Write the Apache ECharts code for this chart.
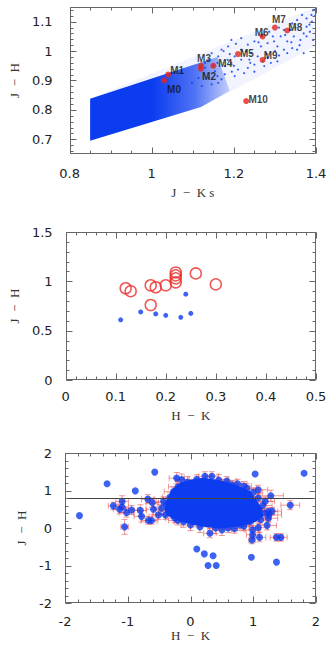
<!DOCTYPE html>
<html><head><meta charset="utf-8">
<script src="https://cdn.jsdelivr.net/npm/echarts@6/dist/echarts.min.js"></script>
<style>html,body{margin:0;padding:0;background:#fff}#c{width:332px;height:653px}</style>
</head><body><div id="c"></div>
<script>
// ---------- Panel 1 data (J-Ks vs J-H) ----------
const p1Names = ['M0','M1','M2','M3','M4','M5','M6','M7','M8','M9','M10'];
const p1X = [1.03, 1.04, 1.12, 1.12, 1.15, 1.21, 1.27, 1.30, 1.33, 1.27, 1.23];
const p1Y = [0.90, 0.92, 0.94, 0.95, 0.95, 0.99, 1.05, 1.08, 1.07, 0.97, 0.83];
const p1XTicks = [0.8, 1, 1.2, 1.4];
const p1YTicks = [0.7, 0.8, 0.9, 1, 1.1];
// outline of the whole simulated band and of its densely filled part
const p1BandOutline = [[0.85,0.695],[1.12,0.81],[1.25,0.905],[1.4,1.02],[1.4,1.15],[0.85,0.838]];
const p1DenseOutline = [[0.85,0.695],[1.12,0.81],[1.19,0.865],[1.16,0.98],[0.85,0.838]];
// individual sparse points in the right part of the band
const p1Speckle = [
 [1.393,1.139],[1.389,1.123],[1.377,1.111],[1.366,1.123],[1.354,1.106],[1.342,1.094],
 [1.385,1.066],[1.377,1.05],[1.393,1.038],[1.362,1.038],[1.346,1.05],[1.33,1.033],
 [1.354,1.005],[1.37,0.993],[1.314,1.05],[1.298,1.033],[1.306,1.016],[1.322,1.005],
 [1.282,1.027],[1.266,1.016],[1.25,1.033],[1.234,1.022],[1.218,1.005],[1.242,0.993],
 [1.258,0.982],[1.29,0.96],[1.306,0.965],[1.274,0.949],[1.25,0.954],[1.234,0.943],
 [1.218,0.971],[1.202,0.982],[1.194,0.96],[1.178,0.949],[1.21,0.937],[1.186,1.016],
 [1.17,1.005],[1.162,0.982],[1.146,0.993],[1.138,0.971],[1.13,0.943],[1.154,0.932],
 [1.178,0.921],[1.202,0.915],[1.17,0.904],[1.138,0.909],[1.114,0.909],[1.098,0.892],
 [1.122,0.881],[1.146,0.887],[1.162,0.892],[1.33,0.993],[1.342,1.01],[1.282,0.977],
 [1.238,0.971],[1.266,1.05],[1.286,1.066],[1.322,1.072],[1.338,1.072],[1.377,1.083],
 [1.194,1.038],[1.218,1.044],[1.396,1.14],[1.39,1.1],[1.37,1.06],[1.35,1.08],
 [1.31,1.08],[1.295,1.05],[1.26,1.03],[1.23,1.0],[1.2,0.95],[1.25,0.93],[1.19,0.99],
 [1.398,1.12],[1.384,1.09],[1.36,1.02],[1.34,1.03],[1.325,1.055],[1.3,1.0],[1.28,0.99],
 [1.31,0.985],[1.27,0.965],[1.24,0.96],[1.225,0.925],[1.195,0.93],[1.16,0.915],
 [1.205,1.025],[1.175,1.0],[1.16,0.96],[1.13,0.96],[1.15,0.95],[1.185,0.97]
];

// ---------- Panel 2 data (H-K vs J-H) ----------
const p2RedX = [0.12, 0.13, 0.17, 0.18, 0.17, 0.20, 0.22, 0.22, 0.22, 0.22, 0.26, 0.30];
const p2RedY = [0.93, 0.90, 0.96, 0.94, 0.76, 0.96, 1.09, 1.06, 1.03, 0.99, 1.08, 0.97];
const p2BlueX = [0.11, 0.15, 0.18, 0.20, 0.23, 0.24, 0.25];
const p2BlueY = [0.61, 0.69, 0.67, 0.655, 0.635, 0.87, 0.675];

// ---------- Panel 3 data (H-K vs J-H with errors) ----------
// [H-K, J-H, err(H-K), err(J-H)]
const p3Points = [
 [-1.77,0.33,0,0],[-1.33,1.18,0,0],[-1.23,0.59,0.08,0.1],[-0.88,0.99,0,0],[-1.05,0.03,0.06,0.2],
 [-0.57,1.49,0,0],[-1.09,0.71,0.1,0.15],[-1.09,0.56,0.1,0.15],[-1.13,0.50,0.1,0.12],
 [-1.02,0.41,0.12,0.12],[-0.94,0.48,0.1,0.12],[-0.80,0.47,0.1,0.15],[-0.78,0.31,0.12,0.15],
 [-0.68,0.77,0.1,0.12],[-0.67,0.20,0.12,0.1],[-0.62,0.20,0.1,0.1],[-0.61,0.68,0.1,0.12],
 [-0.59,0.50,0.12,0.15],[-0.51,0.35,0.1,0.12],[-0.46,0.53,0.12,0.15],[-0.43,0.71,0.12,0.12],
 [-0.22,1.33,0.12,0.15],[-0.14,1.29,0.1,0.15],[0.23,1.38,0.1,0.12],[0.34,1.38,0.1,0.12],
 [1.03,1.44,0,0],[1.81,1.46,0,0],[1.08,1.02,0.15,0.12],[1.28,0.86,0.2,0.15],[1.59,0.61,0.15,0.12],
 [0.10,-0.56,0,0],[0.22,-0.69,0,0],[0.36,-0.74,0,0],[0.28,-1.00,0,0],[0.41,-1.00,0,0],
 [0.31,-0.14,0.1,0.12],[0.97,-0.78,0,0],[1.37,-0.91,0,0],[1.37,-0.25,0.1,0.1],[1.44,-0.25,0.1,0.1],
 [1.10,-0.25,0.1,0.12],[0.99,-0.05,0.12,0.12],[0.99,-0.18,0.1,0.1],[0.98,-0.32,0.05,0.1],
 [1.08,0.01,0.15,0.12],[1.22,0.07,0.15,0.12],[1.25,0.35,0.2,0.12],[1.30,0.45,0.15,0.1],
 [-0.27,0.97,0.15,0.12],[-0.25,0.26,0.15,0.12],[-0.11,0.17,0.15,0.15],[0.52,1.15,0.15,0.15],
 [0.66,1.15,0.15,0.12],[0.90,1.06,0.15,0.12],[0.92,0.84,0.15,0.12],[0.60,0.0,0.15,0.12],
 [0.79,0.08,0.15,0.15],[0.95,0.17,0.15,0.12],[1.24,0.44,0.15,0.1],[1.24,0.26,0.15,0.1],
 [1.19,0.71,0.15,0.12],[-0.35,0.45,0.15,0.12],[-0.38,0.62,0.15,0.12],[-0.33,0.82,0.12,0.12],
 [-0.20,1.10,0.15,0.15],[-0.05,1.22,0.15,0.15],[0.10,1.30,0.12,0.12],[0.45,1.28,0.15,0.15],
 [0.58,1.25,0.15,0.12],[0.75,1.18,0.15,0.12],[0.85,1.12,0.12,0.12],[1.00,0.95,0.15,0.12],
 [1.08,0.80,0.15,0.12],[1.15,0.60,0.15,0.12],[1.18,0.40,0.15,0.12],[1.12,0.22,0.15,0.12],
 [0.85,0.05,0.15,0.12],[0.70,-0.02,0.15,0.12],[0.50,-0.05,0.15,0.15],[0.40,0.0,0.12,0.15],
 [0.15,0.03,0.15,0.15],[0.00,0.08,0.15,0.15],[-0.20,0.20,0.15,0.12],[-0.40,0.35,0.15,0.12]
];
// outline of the solidly filled core of the point cloud
const p3CoreOutline = [
 [-0.41,0.50],[-0.38,0.75],[-0.30,1.02],[-0.17,1.20],[-0.01,1.29],[0.20,1.34],[0.42,1.29],
 [0.63,1.20],[0.79,1.11],[0.95,0.98],[1.05,0.75],[1.14,0.53],[1.16,0.31],[1.04,0.17],
 [0.90,0.08],[0.68,0.02],[0.47,-0.01],[0.26,0.02],[0.05,0.08],[-0.14,0.17],[-0.30,0.26],[-0.38,0.35]
];
const p3RefLineY = 0.8;

// ---------- axis ranges and tick steps ----------
const ranges = [
  {x:[0.8, 1.4], y:[0.65, 1.15], xMajor:0.2, xMinor:0.05, yMajor:0.1, yMinor:0.02},
  {x:[0, 0.5],   y:[0, 1.5],     xMajor:0.1, xMinor:0.02, yMajor:0.5, yMinor:0.1},
  {x:[-2, 2],    y:[-2, 2],      xMajor:1,   xMinor:0.2,  yMajor:1,   yMinor:0.2}
];
function tickVals(lo, hi, step) {
  const out = [];
  const k0 = Math.ceil(lo / step - 1e-9), k1 = Math.floor(hi / step + 1e-9);
  for (let k = k0; k <= k1; k++) out.push(Math.round(k * step * 1e6) / 1e6);
  return out;
}

// ---------- styles ----------
const BLUE = '#0b3cf0';
const RED = '#e3241b';
const AX = '#666';
const tickFont = {fontFamily:'DejaVu Sans', fontSize:13, color:'#222'};
const titleFont = {fontFamily:'Liberation Serif', fontSize:13, color:'#333'};
const labelOffsets = {M0:[10,9],M1:[9,-4],M2:[8,8],M3:[3,-7],M4:[12,-2],M5:[9,-1],M6:[-1,-4],M7:[4,-8],M8:[8,-3],M9:[8,-4],M10:[12,-2]};

const titles = [['J  −  K s','J  −  H'], ['H  −  K','J  −  H'], ['H  −  K','J  −  H']];
const xGaps = [32, 29, 23], xMargins = [13, 10, 12];
const yGaps = [44, 40, 30], yMargins = [17, 13, 13];

const xAxes = ranges.map(function(r, g){
  return {type:'value', gridIndex:g, position:'bottom', min:r.x[0], max:r.x[1], interval:r.xMajor,
    axisLine:{show:false}, axisTick:{show:false}, splitLine:{show:false},
    axisLabel:Object.assign({show:true, margin:xMargins[g]}, tickFont),
    name:titles[g][0], nameLocation:'middle', nameGap:xGaps[g], nameTextStyle:titleFont};
});
const yAxes = ranges.map(function(r, g){
  const a = {type:'value', gridIndex:g, position:'left', min:r.y[0], max:r.y[1],
    axisLine:{show:false}, axisTick:{show:false}, splitLine:{show:false},
    axisLabel:Object.assign({show:true, margin:yMargins[g]}, tickFont),
    name:titles[g][1], nameLocation:'middle', nameGap:yGaps[g], nameRotate:90, nameTextStyle:titleFont};
  if (g === 0) a.axisLabel.customValues = p1YTicks; else a.interval = r.yMajor;
  return a;
});

// frame and inside ticks on all four sides, through the axes' own scales
function tickSeries(g) {
  const r = ranges[g];
  const xM = tickVals(r.x[0], r.x[1], r.xMajor), xm = tickVals(r.x[0], r.x[1], r.xMinor);
  const yM = tickVals(r.y[0], r.y[1], r.yMajor), ym = tickVals(r.y[0], r.y[1], r.yMinor);
  return {
    type:'custom', xAxisIndex:g, yAxisIndex:g, z:8, silent:true, clip:false,
    data:[[r.x[0], r.y[0]]],
    renderItem:function(params, api){
      const c0 = api.coord([r.x[0], r.y[0]]), c1 = api.coord([r.x[1], r.y[1]]);
      const L = Math.round(c0[0]) + 0.5, R = Math.round(c1[0]) - 0.5;
      const T = Math.round(c1[1]) + 0.5, B = Math.round(c0[1]) - 0.5;
      const st = {stroke:AX, lineWidth:1, fill:null};
      const ch = [{type:'rect', shape:{x:L, y:T, width:R - L, height:B - T}, style:{stroke:AX, lineWidth:1, fill:'none'}}];
      function vt(list, len) {
        list.forEach(function(v){
          const px = Math.round(api.coord([v, r.y[0]])[0]) + 0.5;
          ch.push({type:'line', shape:{x1:px, y1:B, x2:px, y2:B - len}, style:st});
          ch.push({type:'line', shape:{x1:px, y1:T, x2:px, y2:T + len}, style:st});
        });
      }
      function ht(list, len) {
        list.forEach(function(v){
          const py = Math.round(api.coord([r.x[0], v])[1]) + 0.5;
          ch.push({type:'line', shape:{x1:L, y1:py, x2:L + len, y2:py}, style:st});
          ch.push({type:'line', shape:{x1:R, y1:py, x2:R - len, y2:py}, style:st});
        });
      }
      vt(xm, 3); vt(xM, 6); ht(ym, 3); ht(yM, 6);
      return {type:'group', children:ch};
    }
  };
}

function polygonSeries(outline, xi, yi, fill, z) {
  return {
    type:'custom', xAxisIndex:xi, yAxisIndex:yi, z:z, silent:true,
    data:[outline[0]],
    renderItem:function(params, api){
      return {type:'polygon', shape:{points: outline.map(function(p){ return api.coord(p); })}, style:{fill:fill}};
    }
  };
}

const series = [
  // panel 1
  polygonSeries(p1BandOutline, 0, 0, 'rgba(11,60,240,0.06)', 1),
  polygonSeries(p1DenseOutline, 0, 0, {type:'linear', x:0, y:0, x2:1, y2:0, colorStops:[
    {offset:0, color:'rgba(11,60,240,1)'},{offset:0.45, color:'rgba(11,60,240,1)'},
    {offset:0.75, color:'rgba(11,60,240,0.7)'},{offset:1, color:'rgba(11,60,240,0.2)'}]}, 2),
  {type:'scatter', xAxisIndex:0, yAxisIndex:0, z:3, silent:true, symbolSize:2.2,
   itemStyle:{color:BLUE}, data:p1Speckle},
  {type:'scatter', xAxisIndex:0, yAxisIndex:0, z:5, silent:true, symbolSize:6,
   itemStyle:{color:RED},
   data:p1Names.map(function(n,i){ return {name:n, value:[p1X[i], p1Y[i]],
     label:{show:true, position:'inside', offset:labelOffsets[n], formatter:n,
       fontFamily:'Liberation Sans', fontWeight:'bold', fontSize:10, color:'#111'}}; })},
  // panel 2
  {type:'scatter', xAxisIndex:1, yAxisIndex:1, z:3, silent:true, symbolSize:5,
   itemStyle:{color:BLUE}, data:p2BlueX.map(function(x,i){ return [x, p2BlueY[i]]; })},
  {type:'scatter', xAxisIndex:1, yAxisIndex:1, z:4, silent:true, symbolSize:11,
   itemStyle:{color:'rgba(0,0,0,0)', borderColor:'#e8302a', borderWidth:1.5},
   data:p2RedX.map(function(x,i){ return [x, p2RedY[i]]; })},
  // panel 3 error bars
  {type:'custom', xAxisIndex:2, yAxisIndex:2, z:1, silent:true,
   encode:{x:0, y:1},
   data:p3Points.filter(function(p){ return p[2] > 0 || p[3] > 0; }),
   renderItem:function(params, api){
     const x = api.value(0), y = api.value(1), xe = api.value(2), ye = api.value(3);
     const l = api.coord([x - xe, y]), r = api.coord([x + xe, y]);
     const t = api.coord([x, y + ye]), b = api.coord([x, y - ye]);
     const st = {stroke:'rgba(232,70,70,0.55)', lineWidth:1};
     const c = 3;
     const ch = [];
     if (xe > 0) {
       ch.push({type:'line', shape:{x1:l[0], y1:l[1], x2:r[0], y2:r[1]}, style:st});
       ch.push({type:'line', shape:{x1:l[0], y1:l[1]-c, x2:l[0], y2:l[1]+c}, style:st});
       ch.push({type:'line', shape:{x1:r[0], y1:r[1]-c, x2:r[0], y2:r[1]+c}, style:st});
     }
     if (ye > 0) {
       ch.push({type:'line', shape:{x1:t[0], y1:t[1], x2:b[0], y2:b[1]}, style:st});
       ch.push({type:'line', shape:{x1:t[0]-c, y1:t[1], x2:t[0]+c, y2:t[1]}, style:st});
       ch.push({type:'line', shape:{x1:b[0]-c, y1:b[1], x2:b[0]+c, y2:b[1]}, style:st});
     }
     return {type:'group', children:ch};
   }},
  polygonSeries(p3CoreOutline, 2, 2, BLUE, 2),
  {type:'scatter', xAxisIndex:2, yAxisIndex:2, z:3, silent:true, symbolSize:7,
   itemStyle:{color:BLUE}, data:p3Points.map(function(p){ return [p[0], p[1]]; })},
  {type:'scatter', xAxisIndex:2, yAxisIndex:2, z:6, silent:true, data:[],
   markLine:{silent:true, symbol:'none', label:{show:false}, animation:false,
     lineStyle:{color:'#444', width:1, type:'solid'}, data:[{yAxis:p3RefLineY}]}},
  tickSeries(0), tickSeries(1), tickSeries(2)
];

const chart = echarts.init(document.getElementById('c'), null, {renderer:'svg'});
chart.setOption({
  animation:false,
  backgroundColor:'#fff',
  grid:[
    {left:65, top:7, width:251, height:147},
    {left:65, top:232, width:251, height:148},
    {left:65, top:453, width:251, height:150}
  ],
  xAxis:xAxes,
  yAxis:yAxes,
  series:series
});
</script>
</body></html>
